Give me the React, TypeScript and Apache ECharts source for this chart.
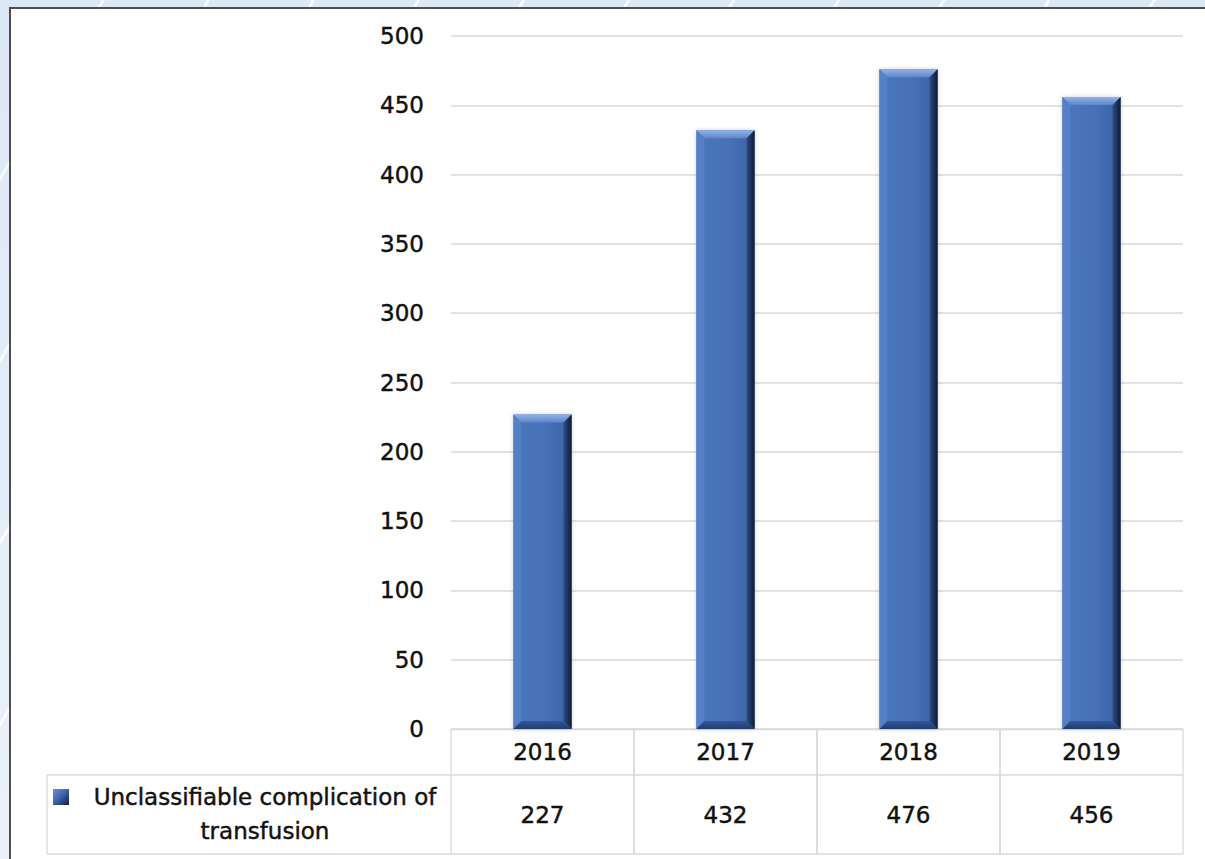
import React, { useEffect, useRef } from "react";
import * as echarts from "echarts";

const years = ["2016", "2017", "2018", "2019"];
const values = [227, 432, 476, 456];
const yTicks = { min: 0, max: 500, interval: 50 };
const seriesName = "Unclassifiable complication of transfusion";
const legendLines = ["Unclassifiable complication of", "transfusion"];

const FONT = "'DejaVu Sans', 'Liberation Sans', sans-serif";
const FS = 23;
const TEXT = "#111111";
const BORDER = "#d9d9d9";
const THICK = { textBorderColor: "#111111", textBorderWidth: 0.45 };

export default function App() {
  const ref = useRef<HTMLDivElement>(null);

  useEffect(() => {
    if (!ref.current) return;
    const chart = echarts.init(ref.current, undefined, { renderer: "svg" });

    const lg = (x1: number, y1: number, x2: number, y2: number, stops: [number, string][]) =>
      new echarts.graphic.LinearGradient(x1, y1, x2, y2, stops.map(([offset, color]) => ({ offset, color })));

    const renderBar = (params: any, api: any) => {
      const i = api.value(0);
      const v = api.value(1);
      const top = api.coord([i, v]);
      const base = api.coord([i, 0]);
      const w = api.size([1, 0])[0] * 0.318;
      const x0 = top[0] - w / 2;
      const x1 = top[0] + w / 2;
      const y0 = top[1];
      const y1 = base[1];
      const b = 8;
      return {
        type: "group",
        children: [
          {
            type: "rect",
            shape: { x: x0, y: y0, width: w, height: y1 - y0 },
            style: {
              fill: lg(0, 0, 1, 0, [[0, "#4c76bd"], [0.6, "#4670b7"], [1, "#3a609f"]]),
              shadowBlur: 4,
              shadowColor: "rgba(110,110,110,0.35)",
            },
          },
          {
            type: "polygon",
            shape: { points: [[x0, y0], [x1, y0], [x1 - b, y0 + b], [x0 + b, y0 + b]] },
            style: { fill: lg(0, 0, 0, 1, [[0, "#93b3e6"], [1, "#5d86cb"]]) },
          },
          {
            type: "polygon",
            shape: { points: [[x0, y0], [x0 + b, y0 + b], [x0 + b, y1 - b], [x0, y1]] },
            style: { fill: "#5680c6" },
          },
          {
            type: "polygon",
            shape: { points: [[x1, y0], [x1, y1], [x1 - b, y1 - b], [x1 - b, y0 + b]] },
            style: { fill: lg(0, 0, 1, 0, [[0, "#2c4c86"], [1, "#0e1b34"]]) },
          },
          {
            type: "polygon",
            shape: { points: [[x0, y1], [x1, y1], [x1 - b, y1 - b], [x0 + b, y1 - b]] },
            style: { fill: lg(0, 0, 0, 1, [[0, "#33579a"], [1, "#203c70"]]) },
          },
        ],
      };
    };

    const YEAR_ROW_H = 46;
    const LEFT_CELL_X = 47;

    const renderTable = (params: any, api: any) => {
      const i = api.value(0);
      const cs = params.coordSys;
      const bandW = api.size([1, 0])[0];
      const cx = api.coord([i, 0])[0];
      const x0 = cx - bandW / 2;
      const top = cs.y;
      const bottom = cs.y + cs.height;
      const mid = top + YEAR_ROW_H;
      const line = (xa: number, ya: number, xb: number, yb: number) => ({
        type: "line",
        shape: { x1: xa, y1: ya, x2: xb, y2: yb },
        style: { stroke: BORDER, lineWidth: 1.3 },
      });
      const txt = (x: number, y: number, text: string) => ({
        type: "text",
        x,
        y,
        style: {
          text,
          align: "center",
          verticalAlign: "middle",
          fill: TEXT,
          font: `${FS}px ${FONT}`,
          stroke: TEXT,
          lineWidth: 0.45,
        },
      });
      const children: any[] = [
        line(x0, top, x0, bottom),
        line(x0 + bandW, top, x0 + bandW, bottom),
        line(x0, mid, x0 + bandW, mid),
        line(x0, bottom, x0 + bandW, bottom),
        txt(cx, (mid + bottom) / 2, String(api.value(1))),
      ];
      if (i === 0) {
        const textCx = 265;
        children.push(
          line(LEFT_CELL_X, mid, x0, mid),
          line(LEFT_CELL_X, bottom, x0, bottom),
          line(LEFT_CELL_X, mid, LEFT_CELL_X, bottom),
          {
            type: "rect",
            shape: { x: 53, y: mid + 14, width: 16, height: 16 },
            style: { fill: lg(0, 0, 1, 1, [[0, "#6f93d2"], [0.5, "#3b62a8"], [1, "#0f1f3d"]]) },
          },
          txt(textCx, mid + 22, legendLines[0]),
          txt(textCx, mid + 56, legendLines[1])
        );
      }
      return { type: "group", children };
    };

    chart.setOption({
      animation: false,
      backgroundColor: "transparent",
      textStyle: { fontFamily: FONT },
      grid: [
        { left: 451, right: 22, top: 36, bottom: 130, containLabel: false },
        { left: 451, right: 22, top: 729, bottom: 5, containLabel: false },
      ],
      xAxis: [
        {
          type: "category",
          gridIndex: 0,
          data: years,
          axisLine: { show: true, lineStyle: { color: BORDER, width: 1.3 } },
          axisTick: { show: false },
          axisLabel: { color: TEXT, fontSize: FS, fontFamily: FONT, margin: 11, ...THICK },
          splitLine: { show: false },
        },
        { type: "category", gridIndex: 1, data: years, show: false },
      ],
      yAxis: [
        {
          type: "value",
          gridIndex: 0,
          min: yTicks.min,
          max: yTicks.max,
          interval: yTicks.interval,
          axisLine: { show: false },
          axisTick: { show: false },
          axisLabel: { color: TEXT, fontSize: FS, fontFamily: FONT, margin: 27, ...THICK },
          splitLine: { show: true, lineStyle: { color: BORDER, width: 1.5 } },
        },
        { type: "value", gridIndex: 1, min: 0, max: 1, show: false },
      ],
      series: [
        {
          type: "custom",
          name: seriesName,
          xAxisIndex: 0,
          yAxisIndex: 0,
          renderItem: renderBar,
          encode: { x: 0, y: 1 },
          data: values.map((v, i) => [i, v]),
          z: 3,
        },
        {
          type: "custom",
          name: "table",
          xAxisIndex: 1,
          yAxisIndex: 1,
          renderItem: renderTable,
          encode: { x: 0 },
          data: values.map((v, i) => [i, v]),
          silent: true,
        },
      ],
    });

    return () => chart.dispose();
  }, []);

  return (
    <div
      style={{
        position: "absolute",
        left: 0,
        top: 0,
        width: 1205,
        height: 859,
        overflow: "hidden",
        background:
          "repeating-linear-gradient(120deg, rgba(255,255,255,0) 0px, rgba(255,255,255,0) 88px, rgba(255,255,255,0.75) 88px, rgba(255,255,255,0.75) 91px), linear-gradient(180deg, #dde8f5 0%, #eaf1f9 100%)",
      }}
    >
      <div
        style={{
          position: "absolute",
          left: 9,
          top: 7,
          width: 1220,
          height: 880,
          background: "#ffffff",
          borderLeft: "2px solid #4d4d4d",
          borderTop: "2px solid #4d4d4d",
        }}
      />
      <div ref={ref} style={{ position: "absolute", left: 0, top: 0, width: 1205, height: 859 }} />
    </div>
  );
}
